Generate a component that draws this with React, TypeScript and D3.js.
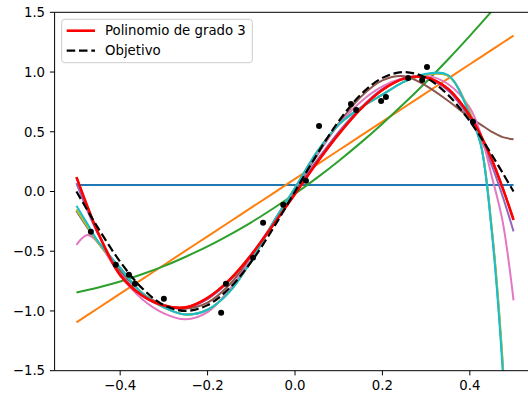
import React from "react";
import * as d3 from "d3";

// x positions where curves were sampled
const X = [-0.5, -0.475, -0.45, -0.4, -0.35, -0.3, -0.25, -0.2, -0.15, -0.1, -0.05, 0, 0.05, 0.1, 0.15, 0.2, 0.25, 0.3, 0.35, 0.4, 0.425, 0.45, 0.475, 0.5];

const objective = [0, -0.156, -0.309, -0.588, -0.809, -0.951, -1, -0.951, -0.809, -0.588, -0.309, 0, 0.309, 0.588, 0.809, 0.951, 1, 0.951, 0.809, 0.588, 0.454, 0.309, 0.156, 0];

const deg0 = [0.055, 0.055, 0.055, 0.055, 0.055, 0.055, 0.055, 0.055, 0.055, 0.055, 0.055, 0.055, 0.055, 0.055, 0.055, 0.055, 0.055, 0.055, 0.055, 0.055, 0.055, 0.055, 0.055, 0.055];
const deg1 = [-1.095, -1.035, -0.975, -0.855, -0.735, -0.615, -0.495, -0.375, -0.255, -0.135, -0.015, 0.105, 0.225, 0.345, 0.465, 0.585, 0.705, 0.825, 0.945, 1.065, 1.125, 1.185, 1.245, 1.305];
const deg2 = [-0.845, -0.825, -0.803, -0.753, -0.693, -0.625, -0.546, -0.46, -0.363, -0.258, -0.142, -0.019, 0.114, 0.256, 0.407, 0.568, 0.738, 0.917, 1.105, 1.303, 1.405, 1.509, 1.615, 1.725];
const deg3 = [0.12, -0.125, -0.35, -0.7, -0.87, -0.955, -0.97, -0.89, -0.74, -0.53, -0.28, -0.02, 0.24, 0.48, 0.69, 0.85, 0.945, 0.955, 0.86, 0.635, 0.47, 0.27, 0.03, -0.237];
const deg4 = [0.07, -0.16, -0.36, -0.68, -0.87, -0.96, -0.975, -0.9, -0.75, -0.53, -0.27, 0, 0.26, 0.5, 0.7, 0.86, 0.95, 0.95, 0.845, 0.61, 0.44, 0.22, -0.04, -0.334];
const deg5 = [-0.16, -0.3, -0.43, -0.66, -0.85, -0.95, -0.98, -0.93, -0.78, -0.55, -0.27, 0.02, 0.3, 0.57, 0.79, 0.93, 0.965, 0.885, 0.76, 0.62, 0.56, 0.5, 0.455, 0.438];
const deg6 = [-0.446, -0.365, -0.43, -0.7, -0.9, -1.02, -1.07, -1.01, -0.82, -0.56, -0.26, 0.03, 0.31, 0.56, 0.75, 0.88, 0.95, 0.97, 0.9, 0.7, 0.48, 0.13, -0.25, -0.911];
const deg7 = [-0.16, -0.3, -0.43, -0.64, -0.85, -0.97, -1.03, -0.99, -0.84, -0.58, -0.26, 0.03, 0.33, 0.56, 0.7, 0.81, 0.92, 0.98, 0.97, 0.66, 0.4, -0.31, -1.44, -3.2];
const deg8 = [-0.15, -0.29, -0.43, -0.64, -0.85, -0.97, -1.03, -0.99, -0.84, -0.58, -0.26, 0.03, 0.33, 0.56, 0.7, 0.81, 0.92, 0.98, 0.97, 0.66, 0.4, -0.3, -1.42, -3.2];
const deg9 = [-0.12, -0.27, -0.42, -0.64, -0.85, -0.97, -1.03, -0.99, -0.84, -0.58, -0.26, 0.03, 0.33, 0.56, 0.7, 0.81, 0.92, 0.985, 0.975, 0.64, 0.39, -0.33, -1.49, -3.3];

const fits = [deg0, deg1, deg2, deg3, deg4, deg5, deg6, deg7, deg8, deg9];
const fitColors = ["#1f77b4", "#ff7f0e", "#2ca02c", "#d62728", "#9467bd", "#8c564b", "#e377c2", "#7f7f7f", "#bcbd22", "#17becf"];

// noisy samples
const ptX = [-0.467, -0.41, -0.38, -0.366, -0.3, -0.169, -0.158, -0.096, -0.073, -0.027, 0.025, 0.055, 0.128, 0.14, 0.197, 0.208, 0.259, 0.291, 0.302, 0.407];
const ptY = [-0.337, -0.613, -0.696, -0.772, -0.897, -1.014, -0.772, -0.554, -0.262, -0.111, 0.089, 0.549, 0.733, 0.683, 0.758, 0.792, 0.951, 0.934, 1.043, 0.583];

const xTicks = [-0.4, -0.2, 0.0, 0.2, 0.4];
const yTicks = [-1.5, -1.0, -0.5, 0.0, 0.5, 1.0, 1.5];
const legendLabels = ["Polinomio de grado 3", "Objetivo"];

const W = 528, H = 399;
const left = 54.6, right = 535.4, top = 12.3, bottom = 370.7;
const FONT = "'DejaVu Sans', sans-serif";

const fmt = (v: number) => v.toFixed(1).replace("-", "\u2212");

export default function App() {
  const x = d3.scaleLinear().domain([-0.55, 0.55]).range([left, right]);
  const y = d3.scaleLinear().domain([-1.5, 1.5]).range([bottom, top]);
  const line = (ys: number[]) =>
    d3.line<number>().x((_, i) => x(X[i])).y((d) => y(d)).curve(d3.curveCatmullRom.alpha(0.5))(ys) || "";

  return (
    <svg width={W} height={H} style={{ position: "absolute", left: 0, top: 0, background: "#fff" }} fontFamily={FONT}>
      <defs>
        <clipPath id="plot">
          <rect x={left} y={top} width={right - left} height={bottom - top} />
        </clipPath>
      </defs>
      <rect x={0} y={0} width={W} height={H} fill="#fff" />
      <g clipPath="url(#plot)">
        {fits.map((ys, i) => (
          <path key={i} d={line(ys)} fill="none" stroke={fitColors[i]} strokeWidth={2} />
        ))}
        <path d={line(deg3)} fill="none" stroke="#ff0000" strokeWidth={2.6} />
        <path d={line(objective)} fill="none" stroke="#000" strokeWidth={2.2} strokeDasharray="8.5,3.8" />
        {ptX.map((px, i) => (
          <circle key={i} cx={x(px)} cy={y(ptY[i])} r={3} fill="#000" />
        ))}
      </g>
      {/* spines */}
      <line x1={left} x2={left} y1={top} y2={bottom} stroke="#000" strokeWidth={1} />
      <line x1={left} x2={right} y1={bottom} y2={bottom} stroke="#000" strokeWidth={1} />
      <line x1={left} x2={right} y1={top} y2={top} stroke="#000" strokeWidth={1} />
      {/* ticks */}
      {xTicks.map((t) => (
        <g key={t}>
          <line x1={x(t)} x2={x(t)} y1={bottom} y2={bottom + 4.7} stroke="#000" strokeWidth={1} />
          <text x={x(t)} y={bottom + 19.5} textAnchor="middle" fontSize={13.3} fill="#000">{fmt(t)}</text>
        </g>
      ))}
      {yTicks.map((t) => (
        <g key={t}>
          <line x1={left - 4.7} x2={left} y1={y(t)} y2={y(t)} stroke="#000" strokeWidth={1} />
          <text x={left - 9.5} y={y(t)} dy="0.36em" textAnchor="end" fontSize={13.3} fill="#000">{fmt(t)}</text>
        </g>
      ))}
      {/* legend */}
      <rect x={61.7} y={19.3} width={190.6} height={43.4} rx={3} fill="#fff" fillOpacity={0.8} stroke="#cccccc" strokeWidth={1} />
      <line x1={66.7} x2={95} y1={30.7} y2={30.7} stroke="#ff0000" strokeWidth={2.6} />
      <text x={105} y={30.7} dy="0.36em" fontSize={13.3} fill="#000">{legendLabels[0]}</text>
      <line x1={66.7} x2={95} y1={50.7} y2={50.7} stroke="#000" strokeWidth={2.2} strokeDasharray="8.5,3.8" />
      <text x={105} y={50.7} dy="0.36em" fontSize={13.3} fill="#000">{legendLabels[1]}</text>
    </svg>
  );
}
